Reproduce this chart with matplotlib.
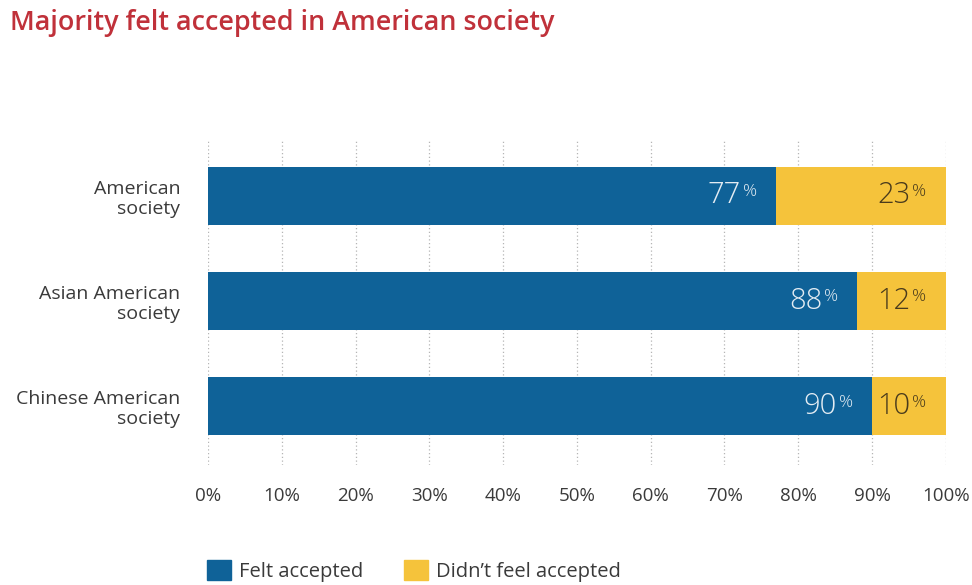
import matplotlib.pyplot as plt
from matplotlib.patches import Patch

plt.rcParams['font.family'] = ['Open Sans', 'DejaVu Sans']

# Survey shares (%)
groups = ['American\nsociety', 'Asian American\nsociety', 'Chinese American\nsociety']
felt_accepted = [77, 88, 90]
not_accepted = [23, 12, 10]
ticks = list(range(0, 101, 10))

blue = '#0f6298'
yellow = '#f5c33b'
text_dark = '#3a3a3a'

fig = plt.figure(figsize=(9.72, 5.85), dpi=100)
ax = fig.add_axes([0.214, 0.205, 0.759, 0.556])

y = range(len(groups))
ax.barh(y, felt_accepted, height=0.55, color=blue, zorder=2)
ax.barh(y, not_accepted, left=felt_accepted, height=0.55, color=yellow, zorder=2)

# dotted vertical gridlines
for t in ticks:
    ax.axvline(t, color='#b5b5b5', lw=0.9, ls=(0, (1, 2)), zorder=1)

ax.set_xlim(0, 100)
ax.set_ylim(2.56, -0.53)
ax.set_xticks(ticks)
ax.set_xticklabels([f'{t}%' for t in ticks], fontsize=13.5, color=text_dark)
ax.set_yticks(list(y))
ax.set_yticklabels(groups, fontsize=14, color=text_dark, ha='right', linespacing=1.15)
ax.tick_params(axis='x', length=0, pad=16)
ax.tick_params(axis='y', length=0, pad=20)
for s in ax.spines.values():
    s.set_visible(False)


def value_label(x_end, yi, val, color):
    # big number with a small raised percent sign
    ax.annotate('%', (x_end, yi), xytext=(-13.8, 2.5), textcoords='offset points',
                ha='right', va='center', fontsize=12.5, color=color,
                fontweight='light', zorder=3)
    ax.annotate(f'{val}', (x_end, yi), xytext=(-25.3, 0), textcoords='offset points',
                ha='right', va='center', fontsize=21, color=color,
                fontweight='light', zorder=3)


for i, (a, b) in enumerate(zip(felt_accepted, not_accepted)):
    value_label(a, i, a, '#e3ecf3')
    value_label(a + b, i, b, '#4a3b1c')

fig.text(0.010, 0.960, 'Majority felt accepted in American society', fontsize=19.4,
         color='#c0313a', fontweight='semibold', va='center', ha='left')

handles = [Patch(color=blue, label='Felt accepted'),
           Patch(color=yellow, label='Didn\u2019t feel accepted')]
fig.legend(handles=handles, loc='center left', bbox_to_anchor=(0.213, 0.024),
           ncol=2, frameon=False, fontsize=14.5, handlelength=1.2, handleheight=1.1,
           handletextpad=0.4, columnspacing=2.0, borderpad=0, borderaxespad=0,
           labelcolor=text_dark)

fig.savefig('out.png', dpi=100, facecolor='white')
